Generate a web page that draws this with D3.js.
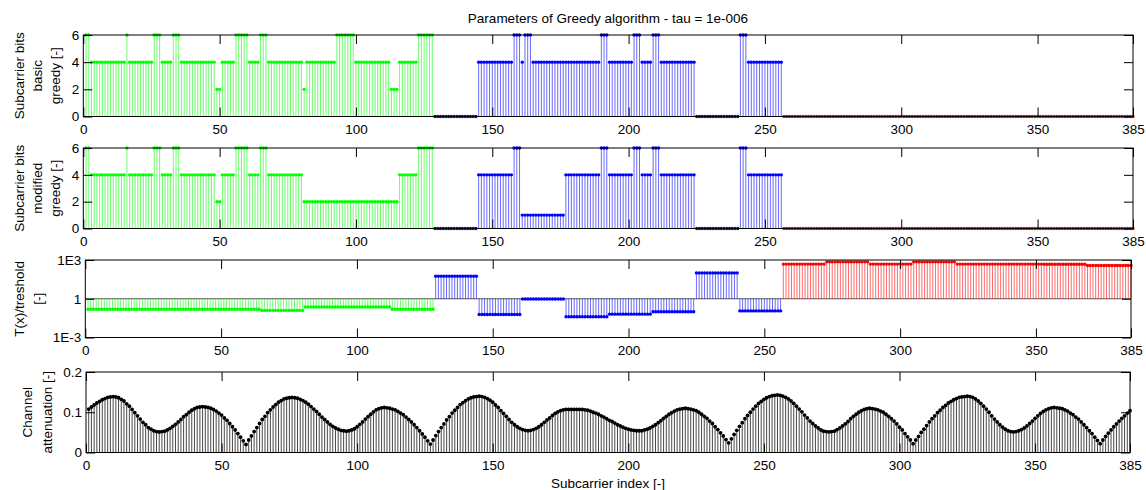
<!DOCTYPE html>
<html><head><meta charset="utf-8">
<script src="https://cdn.jsdelivr.net/npm/d3@7"></script>
<style>
body{margin:0;background:#fff}
svg{display:block}
text{font-family:"Liberation Sans",Arial,sans-serif;fill:#000}
</style>
</head><body>
<svg id="c" width="1146" height="490"></svg>
<script>
// ---------------- DATA ----------------
const xTicks = [0,50,100,150,200,250,300,350,385];
const bitTicks = [0,2,4,6];
const ratioTicks = [1e-3, 1, 1e3];
const ratioTickLabels = ["1E-3","1","1E3"];
const attTicks = [0, 0.1, 0.2];
// last subcarrier index of each coloured group
const groupLast = [128, 256, 385];

const bitsBasic = [
6,6,4,4,4,4,4,4,4,4,4,4,4,4,4,6,
4,4,4,4,4,4,4,4,4,6,6,6,4,4,4,4,
6,6,6,4,4,4,4,4,4,4,4,4,4,4,4,4,
2,2,4,4,4,4,4,6,6,6,6,6,4,4,4,4,
6,6,6,4,4,4,4,4,4,4,4,4,4,4,4,4,
2,4,4,4,4,4,4,4,4,4,4,4,6,6,6,6,
6,6,6,4,4,4,4,4,4,4,4,4,4,4,4,4,
2,2,2,4,4,4,4,4,4,4,6,6,6,6,6,6,
0,0,0,0,0,0,0,0,0,0,0,0,0,0,0,0,
4,4,4,4,4,4,4,4,4,4,4,4,4,6,6,6,
4,6,6,6,4,4,4,4,4,4,4,4,4,4,4,4,
4,4,4,4,4,4,4,4,4,4,4,4,4,6,6,6,
4,4,4,4,4,4,4,4,4,6,6,6,4,4,4,4,
6,6,6,4,4,4,4,4,4,4,4,4,4,4,4,4,
0,0,0,0,0,0,0,0,0,0,0,0,0,0,0,0,
6,6,6,4,4,4,4,4,4,4,4,4,4,4,4,4,
0,0,0,0,0,0,0,0,0,0,0,0,0,0,0,0,
0,0,0,0,0,0,0,0,0,0,0,0,0,0,0,0,
0,0,0,0,0,0,0,0,0,0,0,0,0,0,0,0,
0,0,0,0,0,0,0,0,0,0,0,0,0,0,0,0,
0,0,0,0,0,0,0,0,0,0,0,0,0,0,0,0,
0,0,0,0,0,0,0,0,0,0,0,0,0,0,0,0,
0,0,0,0,0,0,0,0,0,0,0,0,0,0,0,0,
0,0,0,0,0,0,0,0,0,0,0,0,0,0,0,0,
0];

const bitsModified = [
6,6,4,4,4,4,4,4,4,4,4,4,4,4,4,6,
4,4,4,4,4,4,4,4,4,6,6,6,4,4,4,4,
6,6,6,4,4,4,4,4,4,4,4,4,4,4,4,4,
2,2,4,4,4,4,4,6,6,6,6,6,4,4,4,4,
6,6,6,4,4,4,4,4,4,4,4,4,4,4,4,4,
2,2,2,2,2,2,2,2,2,2,2,2,2,2,2,2,
2,2,2,2,2,2,2,2,2,2,2,2,2,2,2,2,
2,2,2,4,4,4,4,4,4,4,6,6,6,6,6,6,
0,0,0,0,0,0,0,0,0,0,0,0,0,0,0,0,
4,4,4,4,4,4,4,4,4,4,4,4,4,6,6,6,
1,1,1,1,1,1,1,1,1,1,1,1,1,1,1,1,
4,4,4,4,4,4,4,4,4,4,4,4,4,6,6,6,
4,4,4,4,4,4,4,4,4,6,6,6,4,4,4,4,
6,6,6,4,4,4,4,4,4,4,4,4,4,4,4,4,
0,0,0,0,0,0,0,0,0,0,0,0,0,0,0,0,
6,6,6,4,4,4,4,4,4,4,4,4,4,4,4,4,
0,0,0,0,0,0,0,0,0,0,0,0,0,0,0,0,
0,0,0,0,0,0,0,0,0,0,0,0,0,0,0,0,
0,0,0,0,0,0,0,0,0,0,0,0,0,0,0,0,
0,0,0,0,0,0,0,0,0,0,0,0,0,0,0,0,
0,0,0,0,0,0,0,0,0,0,0,0,0,0,0,0,
0,0,0,0,0,0,0,0,0,0,0,0,0,0,0,0,
0,0,0,0,0,0,0,0,0,0,0,0,0,0,0,0,
0,0,0,0,0,0,0,0,0,0,0,0,0,0,0,0,
0];

const ratio = [
0.155,0.155,0.155,0.155,0.155,0.155,0.155,0.155,0.155,0.155,0.155,0.155,0.155,0.155,0.155,0.155,
0.155,0.155,0.155,0.155,0.155,0.155,0.155,0.155,0.155,0.155,0.155,0.155,0.155,0.155,0.155,0.155,
0.155,0.155,0.155,0.155,0.155,0.155,0.155,0.155,0.155,0.155,0.155,0.155,0.155,0.155,0.155,0.155,
0.155,0.155,0.155,0.155,0.155,0.155,0.155,0.155,0.155,0.155,0.155,0.155,0.155,0.155,0.155,0.155,
0.125,0.125,0.125,0.125,0.125,0.125,0.125,0.125,0.125,0.125,0.125,0.125,0.125,0.125,0.125,0.125,
0.23,0.23,0.23,0.23,0.23,0.23,0.23,0.23,0.23,0.23,0.23,0.23,0.23,0.23,0.23,0.23,
0.23,0.23,0.23,0.23,0.23,0.23,0.23,0.23,0.23,0.23,0.23,0.23,0.23,0.23,0.23,0.23,
0.155,0.155,0.155,0.155,0.155,0.155,0.155,0.155,0.155,0.155,0.155,0.155,0.155,0.155,0.155,0.155,
56,56,56,56,56,56,56,56,56,56,56,56,56,56,56,56,
0.06,0.06,0.06,0.06,0.06,0.06,0.06,0.06,0.06,0.06,0.06,0.06,0.06,0.06,0.06,0.06,
0.95,0.95,0.95,0.95,0.95,0.95,0.95,0.95,0.95,0.95,0.95,0.95,0.95,0.95,0.95,0.95,
0.04,0.04,0.04,0.04,0.04,0.04,0.04,0.04,0.04,0.04,0.04,0.04,0.04,0.04,0.04,0.04,
0.064,0.064,0.064,0.064,0.064,0.064,0.064,0.064,0.064,0.064,0.064,0.064,0.064,0.064,0.064,0.064,
0.098,0.098,0.098,0.098,0.098,0.098,0.098,0.098,0.098,0.098,0.098,0.098,0.098,0.098,0.098,0.098,
100,100,100,100,100,100,100,100,100,100,100,100,100,100,100,100,
0.115,0.115,0.115,0.115,0.115,0.115,0.115,0.115,0.115,0.115,0.115,0.115,0.115,0.115,0.115,0.115,
480,480,480,480,480,480,480,480,480,480,480,480,480,480,480,480,
720,720,720,720,720,720,720,720,720,720,720,720,720,720,720,720,
480,480,480,480,480,480,480,480,480,480,480,480,480,480,480,480,
720,720,720,720,720,720,720,720,720,720,720,720,720,720,720,720,
480,480,480,480,480,480,480,480,480,480,480,480,480,480,480,480,
480,480,480,480,480,480,480,480,480,480,480,480,480,480,480,480,
470,470,470,470,470,470,470,470,470,470,470,470,470,470,470,470,
380,380,380,380,380,380,380,380,380,380,380,380,380,380,380,380,
380];

const attenuation = [
.108,.113,.118,.123,.127,.131,.134,.137,.138,.139,
.138,.136,.132,.128,.121,.115,.107,.099,.091,.083,.075,.069,.062,.058,.054,.052,.051,
.052,.053,.056,.060,.065,.070,.076,.082,.089,.094,.100,.105,.109,.112,.113,.114,
.113,.112,.110,.107,.103,.098,.093,.086,.080,.072,.064,.056,.047,.038,.029,.020,
.031,.041,.052,.062,.072,.082,.090,.099,.106,.113,.119,.125,.129,.133,.135,.136,.137,
.136,.135,.132,.129,.125,.120,.114,.108,.102,.095,.088,.082,.076,.070,.065,.061,.058,.055,.054,.053,
.054,.056,.059,.064,.070,.076,.083,.089,.095,.101,.106,.109,.111,.112,
.111,.110,.108,.106,.102,.098,.094,.088,.082,.076,.069,.062,.054,.046,.038,.029,.021,
.031,.042,.052,.062,.071,.081,.089,.098,.105,.112,.119,.124,.129,.133,.136,.138,.139,.140,
.139,.137,.134,.130,.125,.118,.112,.104,.097,.090,.082,.075,.069,.064,.060,.057,.055,.054,
.055,.057,.060,.064,.069,.075,.081,.086,.092,.097,.101,.104,.106,.107,
.107,.107,.107,.107,.107,
.107,.106,.105,.103,.100,.098,.095,.091,.088,.084,.080,.077,.073,.069,.066,.063,.060,.058,.056,.055,.054,.054,
.054,.056,.058,.061,.065,.069,.074,.079,.085,.090,.095,.099,.103,.106,.108,.109,.110,
.109,.108,.106,.104,.100,.095,.090,.085,.078,.072,.064,.057,.049,.041,.032,.024,
.034,.045,.055,.065,.074,.084,.092,.100,.108,.115,.122,.127,.132,.136,.139,.141,.142,.143,
.142,.140,.137,.133,.128,.122,.115,.108,.101,.093,.086,.078,.072,.066,.061,.056,.053,.052,.051,
.052,.053,.057,.061,.066,.071,.077,.084,.090,.095,.100,.104,.107,.109,.110,
.109,.108,.106,.103,.100,.095,.090,.084,.078,.071,.063,.056,.047,.039,.031,.022,
.031,.040,.050,.058,.067,.076,.084,.091,.099,.105,.112,.117,.123,.127,.131,.134,.137,.138,.139,.140,
.139,.137,.133,.128,.122,.115,.108,.100,.091,.083,.076,.069,.063,.058,.054,.052,.051,
.052,.054,.057,.061,.066,.072,.078,.085,.091,.097,.102,.106,.109,.111,.112,
.111,.110,.109,.106,.103,.098,.094,.088,.083,.076,.069,.062,.054,.047,.038,.030,.022,
.031,.040,.048,.056,.064,.071,.078,.085,.091,.098,.104];

// ---------------- STYLE / LAYOUT ----------------
const groupColors = ["#00ff00", "#0000ff", "#ff0000"];
const FONT = 13.5;
const TICK = 9;
const svg = d3.select("#c");

const panels = [
  {data: bitsBasic, top: 35, bottom: 116.5, left: 83.3, right: 1133, log: false, domain: [0,6], ticks: bitTicks,
   fmt: d => d, labels: ["Subcarrier bits","basic","greedy [-]"], labelX: [19,37,55], base: 0, colored: true, r: 1.7},
  {data: bitsModified, top: 148, bottom: 228.5, left: 83.3, right: 1133, log: false, domain: [0,6], ticks: bitTicks,
   fmt: d => d, labels: ["Subcarrier bits","modified","greedy [-]"], labelX: [19,37,55], base: 0, colored: true, r: 1.7},
  {data: ratio, top: 260, bottom: 337.5, left: 85.3, right: 1131, log: true, domain: [1e-3,1e3], ticks: ratioTicks,
   fmt: (d,i) => ratioTickLabels[i], labels: ["T(x)/treshold","[-]"], labelX: [19,38], base: 1, colored: true, r: 1.7},
  {data: attenuation, top: 372, bottom: 452.5, left: 86, right: 1130, log: false, domain: [0,0.2], ticks: attTicks,
   fmt: d => d === 0 ? "0" : d3.format(".1f")(d), labels: ["Channel","attenuation [-]"], labelX: [27,47], base: 0, colored: false, r: 1.9}
];

function colorOf(idx) {
  for (let g = 0; g < groupLast.length; g++) if (idx <= groupLast[g]) return groupColors[g];
  return "#000";
}

panels.forEach(p => {
  const x = d3.scaleLinear().domain([0,385]).range([p.left, p.right]);
  const y = (p.log ? d3.scaleLog() : d3.scaleLinear()).domain(p.domain).range([p.bottom, p.top]);
  const g = svg.append("g");
  const pts = p.data.map((v,i) => ({i: i+1, v}));

  if (p.log) {
    g.append("line").attr("x1", p.left).attr("x2", p.right)
      .attr("y1", y(p.base)).attr("y2", y(p.base))
      .attr("stroke", "#555").attr("stroke-width", 1);
  }
  // stems
  g.append("g").selectAll("line").data(pts).join("line")
    .attr("x1", d => x(d.i)).attr("x2", d => x(d.i))
    .attr("y1", y(p.base)).attr("y2", d => y(d.v))
    .attr("stroke", d => p.colored ? colorOf(d.i) : "#000")
    .attr("stroke-opacity", p.colored ? 0.65 : 0.8)
    .attr("stroke-width", 0.9);
  // markers
  g.append("g").selectAll("circle").data(pts).join("circle")
    .attr("cx", d => x(d.i)).attr("cy", d => y(d.v)).attr("r", p.r)
    .attr("fill", d => p.colored ? colorOf(d.i) : "#000");

  const styleAxis = a => {
    a.attr("font-size", FONT).attr("font-family", '"Liberation Sans", Arial, sans-serif');
    a.select(".domain").remove();
    a.selectAll(".tick line").attr("stroke", "#000");
    a.selectAll(".tick text").attr("fill", "#000");
  };
  g.append("g").attr("transform", `translate(0,${p.bottom})`)
    .call(d3.axisBottom(x).tickValues(xTicks).tickSize(-TICK).tickPadding(8).tickFormat(d3.format("d")))
    .call(styleAxis);
  g.append("g").attr("transform", `translate(0,${p.top})`)
    .call(d3.axisTop(x).tickValues(xTicks).tickSize(-TICK).tickFormat(""))
    .call(styleAxis);
  g.append("g").attr("transform", `translate(${p.left},0)`)
    .call(d3.axisLeft(y).tickValues(p.ticks).tickSize(-TICK).tickPadding(4).tickFormat(p.fmt))
    .call(styleAxis);
  g.append("g").attr("transform", `translate(${p.right},0)`)
    .call(d3.axisRight(y).tickValues(p.ticks).tickSize(-TICK).tickFormat(""))
    .call(styleAxis);

  g.append("rect").attr("x", p.left).attr("y", p.top)
    .attr("width", p.right - p.left).attr("height", p.bottom - p.top)
    .attr("fill", "none").attr("stroke", "#000").attr("stroke-width", 1);

  const cy = (p.top + p.bottom) / 2;
  p.labels.forEach((t, k) => {
    svg.append("text").attr("transform", `translate(${p.labelX[k]},${cy}) rotate(-90)`)
      .attr("text-anchor", "middle").attr("dy", "0.35em").attr("font-size", FONT).text(t);
  });
});

svg.append("text").attr("x", 608).attr("y", 18).attr("dy", "0.35em")
  .attr("text-anchor", "middle").attr("font-size", FONT)
  .text("Parameters of Greedy algorithm - tau = 1e-006");
svg.append("text").attr("x", 608).attr("y", 483).attr("dy", "0.35em")
  .attr("text-anchor", "middle").attr("font-size", FONT)
  .text("Subcarrier index [-]");
</script>
</body></html>
